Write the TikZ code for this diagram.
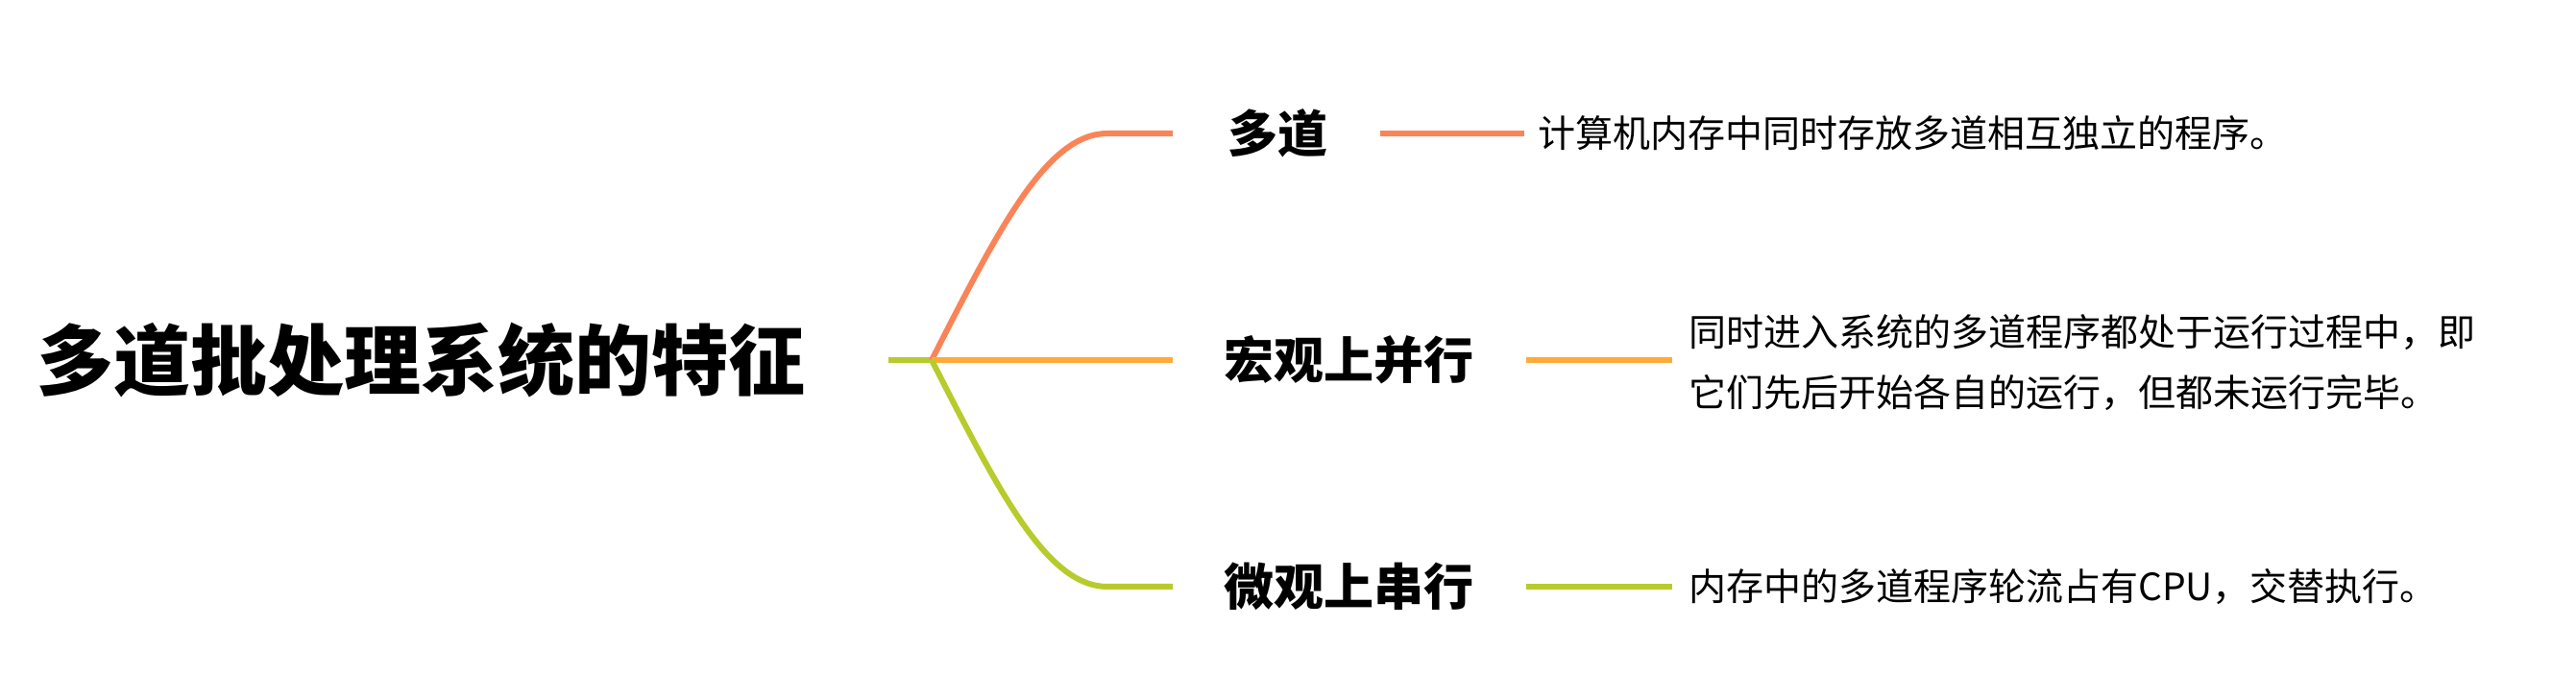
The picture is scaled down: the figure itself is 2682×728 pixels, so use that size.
\documentclass[tikz,border=0pt]{standalone}
\usepackage{fontspec}
\setmainfont{Noto Sans CJK SC}
\usetikzlibrary{positioning,calc}
\definecolor{brRed}{HTML}{FA8458}
\definecolor{brOrange}{HTML}{FFAB38}
\definecolor{brGreen}{HTML}{B8CB2C}
\tikzset{
  rootnode/.style={inner sep=0pt,anchor=west,
                   font=\fontsize{80}{96}\selectfont\bfseries},
  topicnode/.style={inner sep=0pt,anchor=west,
                    font=\fontsize{52}{62}\selectfont\bfseries},
  descnode/.style={inner sep=0pt,anchor=west,align=left,
                   font=\fontsize{39}{63}\selectfont},
  branch/.style={line width=6pt},
}

\begin{document}
\begin{tikzpicture}[x=1pt,y=1pt]
\useasboundingbox (0,0) rectangle (2682,728);

%% ---------- root ----------
\node[rootnode] (root) at (38,353) {多道批处理系统的特征};
\coordinate (hub) at (970,353);

%% ---------- topics ----------
\node[topicnode] (multi) at (1278,589) {多道};
\node[topicnode] (macro) at (1274,353) {宏观上并行};
\node[topicnode] (micro) at (1274,117) {微观上串行};

%% ---------- descriptions ----------
\node[descnode] (multiD) at (1601,589)
  {计算机内存中同时存放多道相互独立的程序。};
\node[descnode] (macroD) at (1758,350)
  {同时进入系统的多道程序都处于运行过程中，即\\它们先后开始各自的运行，但都未运行完毕。};
\node[descnode] (microD) at (1758,117)
  {内存中的多道程序轮流占有CPU，交替执行。};

%% branch ends
\coordinate (k1) at (1221,589);
\coordinate (k2) at (1221,353);
\coordinate (k3) at (1221,117);

%% root to hub
\draw[branch,brGreen,shorten <=87pt] (root.east) -- (hub);

%% hub to topics
\draw[branch,brRed] (hub) .. controls (1040,490) and (1090,589) .. (1153,589) -- (k1);
\draw[branch,brOrange] (hub) -- (k2);
\draw[branch,brGreen] (hub) .. controls (1040,216) and (1090,117) .. (1153,117) -- (k3);

%% topics to descriptions
\draw[branch,brRed,shorten <=55pt,shorten >=14pt] (multi.east) -- (multiD.west);
\draw[branch,brOrange,shorten <=55pt,shorten >=17pt] (macro.east) -- (macroD.west |- macro.east);
\draw[branch,brGreen,shorten <=55pt,shorten >=17pt] (micro.east) -- (microD.west);
\end{tikzpicture}
\end{document}
